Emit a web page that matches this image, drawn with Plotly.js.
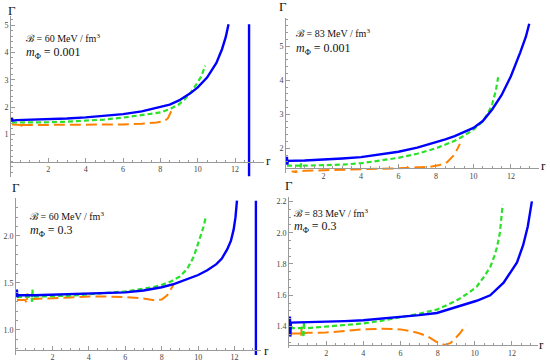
<!DOCTYPE html>
<html><head><meta charset="utf-8">
<script src="https://cdn.plot.ly/plotly-3.0.1.min.js"></script>
<style>html,body{margin:0;padding:0;background:#fff}#chart{width:550px;height:363px}</style>
</head><body><div id="chart"></div>
<script>
// ---------- Panel 1: B = 60, m = 0.001 ----------
const blue1_r = [0.05,0.07,0.3,1,2,3,4,5,6,7,8,8.5,9,9.6,10,10.5,11,11.3,11.5,11.65];
const blue1_g = [1.62,1.50,1.52,1.53,1.55,1.58,1.62,1.67,1.74,1.84,1.99,2.09,2.24,2.50,2.72,3.08,3.62,4.12,4.56,5.04];
const blue1_asym_r = [12.75,12.75];
const blue1_asym_g = [5.04,-0.55];
const green1_r = [0.05,1,2,3,4,5,6,7,8,8.5,9,9.3,9.6,9.9,10.2,10.4];
const green1_g = [1.43,1.43,1.44,1.46,1.49,1.54,1.61,1.70,1.80,1.92,2.10,2.28,2.51,2.80,3.13,3.52];
const orange1_r = [0.05,0.55,0.6,0.62,0.65,1,2,3,4,5,6,7,7.8,8.2,8.4,8.64];
const orange1_g = [1.36,1.34,1.26,1.40,1.34,1.34,1.34,1.34,1.34,1.35,1.36,1.39,1.43,1.48,1.58,1.93];

// ---------- Panel 2: B = 83, m = 0.001 ----------
const blue2_r = [0.05,0.07,0.1,1,2,3,4,5,6,7,8,8.5,9,9.5,10,10.5,11,11.5,12,12.5,12.8,12.98];
const blue2_g = [1.75,1.52,1.63,1.64,1.66,1.70,1.74,1.81,1.90,2.02,2.17,2.26,2.36,2.47,2.60,2.80,3.14,3.56,4.12,4.82,5.28,5.66];
const green2_r = [0.05,0.75,0.78,0.8,0.83,1,2,3,4,5,6,7,8,9,9.5,10,10.5,10.8,11.0,11.2,11.32];
const green2_g = [1.49,1.49,1.42,1.56,1.49,1.49,1.50,1.52,1.56,1.63,1.72,1.84,2.00,2.22,2.37,2.55,2.79,3.05,3.30,3.70,4.09];
const orange2_r = [0.3,0.5,0.52,0.54,0.56,1,2,3,4,5,6,7,7.7,8.2,8.6,9.0,9.28];
const orange2_g = [1.32,1.31,1.26,1.35,1.31,1.34,1.36,1.37,1.38,1.40,1.41,1.43,1.46,1.51,1.59,1.82,2.13];

// ---------- Panel 3: B = 60, m = 0.3 ----------
const blue3_r = [0.05,0.07,0.1,1,2,3,4,5,6,7,8,8.7,9,9.5,10,10.5,11,11.3,11.6,11.8,11.95,12.05,12.13];
const blue3_g = [1.43,1.35,1.37,1.37,1.375,1.38,1.385,1.39,1.40,1.42,1.455,1.49,1.51,1.545,1.585,1.635,1.70,1.76,1.86,1.95,2.07,2.20,2.375];
const blue3_asym_r = [13.17,13.17];
const blue3_asym_g = [2.375,0.734];
const green3_r = [0.05,0.85,0.88,0.9,0.93,1,2,3,4,5,6,7,7.5,8,8.5,9,9.4,9.76,10.12,10.3,10.43];
const green3_g = [1.35,1.355,1.30,1.43,1.355,1.355,1.36,1.365,1.383,1.395,1.41,1.435,1.455,1.48,1.515,1.57,1.65,1.78,2.0,2.1,2.21];
const orange3_r = [0.05,0.5,0.6,0.62,0.65,1,2,3,4,5,6,7,7.6,8,8.3,8.55,8.7];
const orange3_g = [1.32,1.32,1.28,1.39,1.33,1.33,1.34,1.35,1.355,1.355,1.35,1.335,1.315,1.325,1.37,1.45,1.50];

// ---------- Panel 4: B = 83, m = 0.3 ----------
const blue4_r = [0.05,0.07,0.1,1,2,3,4,5,6,7,7.96,9.4,10.1,10.83,11.55,12.27,12.6,12.85,13.07];
const blue4_g = [1.464,1.336,1.425,1.427,1.43,1.435,1.44,1.45,1.46,1.473,1.487,1.538,1.565,1.60,1.68,1.81,1.92,2.04,2.20];
const green4_r = [0.05,0.75,0.78,0.8,0.83,1,2,3,4,5,6,7,8,9,9.6,10.1,10.5,10.83,11.05,11.2,11.35,11.5];
const green4_g = [1.39,1.39,1.33,1.43,1.39,1.39,1.40,1.408,1.42,1.437,1.458,1.482,1.51,1.565,1.61,1.655,1.72,1.78,1.85,1.91,2.0,2.18];
const orange4_r = [0.05,0.6,0.65,0.68,0.7,1,2,3,4,5,6,6.5,7,7.5,8,8.4,8.7,8.9,9.2,9.52];
const orange4_g = [1.355,1.355,1.33,1.40,1.355,1.36,1.362,1.372,1.382,1.386,1.382,1.372,1.357,1.335,1.298,1.283,1.295,1.318,1.357,1.41];

// ---------- tick labels ----------
const xTicks = [2,4,6,8,10,12];
const yTicks1 = [1,2,3,4,5];
const yTicks2 = [2,3,4,5];
const yTicks3 = [1.0,1.5,2.0];
const yTicks4 = [1.4,1.6,1.8,2.0,2.2];
const yTickText3 = ['1.0','1.5','2.0'];
const yTickText4 = ['1.4','1.6','1.8','2.0','2.2'];

const bagLabels = ['ℬ = 60 MeV / fm<sup>3</sup>','ℬ = 83 MeV / fm<sup>3</sup>','ℬ = 60 MeV / fm<sup>3</sup>','ℬ = 83 MeV / fm<sup>3</sup>'];
const massLabels = ['<i>m</i><sub>Φ</sub> = 0.001','<i>m</i><sub>Φ</sub> = 0.001','<i>m</i><sub>Φ</sub> = 0.3','<i>m</i><sub>Φ</sub> = 0.3'];

// ---------- layout geometry (pixels) ----------
const W = 550, H = 363;
const panels = [
  {xpx:[11,264], xr:[0,13.55], ypx:[15.7,176.5], yr:[-0.55,5.35], ax:0, yt:yTicks1, ytt:yTicks1.map(String), ymin:0.2,
   blue:[blue1_r,blue1_g], asym:[blue1_asym_r,blue1_asym_g], green:[green1_r,green1_g], orange:[orange1_r,orange1_g],
   G:[12,10], R:[268,160], tB:[24,38], tM:[24,53]},
  {xpx:[286,539], xr:[0,13.5], ypx:[18,173], yr:[1.274,5.83], ax:1.41, yt:yTicks2, ytt:yTicks2.map(String), ymin:0.2,
   blue:[blue2_r,blue2_g], asym:null, green:[green2_r,green2_g], orange:[orange2_r,orange2_g],
   G:[283,7], R:[543,166], tB:[294,33], tM:[294,49]},
  {xpx:[16,261], xr:[0,13.45], ypx:[198,355], yr:[0.734,2.404], ax:0.79, yt:yTicks3, ytt:yTickText3, ymin:0.1,
   blue:[blue3_r,blue3_g], asym:[blue3_asym_r,blue3_asym_g], green:[green3_r,green3_g], orange:[orange3_r,orange3_g],
   G:[16,187], R:[266,350], tB:[28,216], tM:[28,231]},
  {xpx:[289,538], xr:[0,13.4], ypx:[196.7,348], yr:[1.263,2.23], ax:1.28, yt:yTicks4, ytt:yTickText4, ymin:0.05,
   blue:[blue4_r,blue4_g], asym:null, green:[green4_r,green4_g], orange:[orange4_r,orange4_g],
   G:[289,186], R:[541,344], tB:[292,213], tM:[292,227]}
];

const BLUE = 'rgb(0,0,255)', GREEN = 'rgb(40,225,40)', ORANGE = 'rgb(255,128,0)';
const AX = '#9a9a9a', TXT = '#444';
const serif = 'Liberation Serif';

const traces = [];
const layout = {
  width: W, height: H, margin:{l:0,r:0,t:0,b:0},
  paper_bgcolor:'#fff', plot_bgcolor:'rgba(0,0,0,0)', showlegend:false,
  font:{family:serif},
  annotations: []
};

panels.forEach((p, i) => {
  const n = i + 1;
  const xa = 'x' + (n === 1 ? '' : n), ya = 'y' + (n === 1 ? '' : n);
  const xd = [p.xpx[0]/W, p.xpx[1]/W];
  const yd = [1 - p.ypx[1]/H, 1 - p.ypx[0]/H];
  const pos = yd[0] + (p.ax - p.yr[0])/(p.yr[1]-p.yr[0])*(yd[1]-yd[0]);
  layout['xaxis' + (n === 1 ? '' : n)] = {
    domain: xd, range: p.xr, anchor: 'free', position: pos,
    showgrid:false, zeroline:false, showline:true, linecolor:AX, linewidth:1,
    ticks:'inside', ticklen:4, tickcolor:AX, tickwidth:1,
    tickvals: xTicks, ticktext: xTicks.map(String),
    tickfont:{family:serif, size:8, color:TXT},
    minor:{dtick:0.5, tick0:0, ticks:'inside', ticklen:2, tickcolor:AX, tickwidth:1},
    fixedrange:true
  };
  layout['yaxis' + (n === 1 ? '' : n)] = {
    domain: yd, range: p.yr, anchor: xa,
    showgrid:false, zeroline:false, showline:true, linecolor:AX, linewidth:1,
    ticks:'inside', ticklen:4, tickcolor:AX, tickwidth:1,
    tickvals: p.yt, ticktext: p.ytt,
    tickfont:{family:serif, size:8, color:TXT},
    minor:{dtick:p.ymin, tick0:0, ticks:'inside', ticklen:2, tickcolor:AX, tickwidth:1},
    fixedrange:true
  };
  const common = {type:'scatter', mode:'lines', xaxis:xa, yaxis:ya, hoverinfo:'skip', cliponaxis:true};
  traces.push(Object.assign({}, common, {x:p.orange[0], y:p.orange[1], line:{color:ORANGE, width:2, dash:'11px,5px'}}));
  traces.push(Object.assign({}, common, {x:p.green[0], y:p.green[1], line:{color:GREEN, width:2.2, dash:'5px,3px'}}));
  traces.push(Object.assign({}, common, {x:p.blue[0], y:p.blue[1], line:{color:BLUE, width:2.4}}));
  if (p.asym) traces.push(Object.assign({}, common, {x:p.asym[0], y:p.asym[1], line:{color:BLUE, width:2.4}}));

  const ann = (px, py, text, size, xanchor) => ({
    xref:'paper', yref:'paper', x: px/W, y: 1 - py/H, text, showarrow:false,
    xanchor: xanchor || 'center', yanchor:'middle', font:{family:serif, size, color:'#111'}
  });
  layout.annotations.push(ann(p.G[0], p.G[1], 'Γ', 13));
  layout.annotations.push(ann(p.R[0], p.R[1], 'r', 13));
  layout.annotations.push(ann(p.tB[0], p.tB[1], bagLabels[i], 10, 'left'));
  layout.annotations.push(ann(p.tM[0], p.tM[1], massLabels[i], 12, 'left'));
});

Plotly.newPlot('chart', traces, layout, {staticPlot:true, displayModeBar:false});
</script>
</body></html>
